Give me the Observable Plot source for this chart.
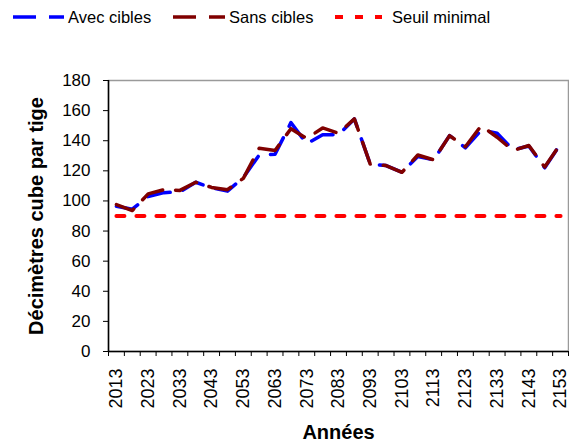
<!DOCTYPE html>
<html><head><meta charset="utf-8">
<script src="https://cdn.jsdelivr.net/npm/d3@7"></script>
<script src="https://cdn.jsdelivr.net/npm/@observablehq/plot@0.6"></script>
<style>
body{margin:0;background:#fff;font-family:"Liberation Sans",Arial,sans-serif;}
#chart{width:569px;height:443px;overflow:hidden;}
#chart svg{display:block;}
</style></head><body><div id="chart"></div>
<script>
// Categories (years)
const years = [2013,2018,2023,2028,2033,2038,2043,2048,2053,2058,2063,2068,2073,2078,2083,2088,2093,2098,2103,2108,2113,2118,2123,2128,2133,2138,2143,2148,2153];
// Series values (dm3 per stem)
const avecCibles = [96.5,94.5,103,105.5,106,112.4,108.7,106.5,115.5,130.5,131,152,138,144,144,154.5,124.5,123.5,119,129.5,127.3,143.4,135.3,147,145,134,136.5,122,138];
const sansCibles = [97.6,93.6,104.7,107.5,107,112.4,109,107.5,115,135,133.5,148,141.5,148.5,145,154.5,124.5,123.5,119,130.5,127.3,143.4,136,150,142.3,133.5,136.8,122.5,138];
const seuilMinimal = 90;
// Tick labels
const yTicks = [0,20,40,60,80,100,120,140,160,180];
const xLabelYears = [2013,2023,2033,2043,2053,2063,2073,2083,2093,2103,2113,2123,2133,2143,2153];
const seriesNames = ["Avec cibles","Sans cibles","Seuil minimal"];

const FONT = "Liberation Sans, Arial, sans-serif";
const step = years[1]-years[0];
const xDomain = [years[0]-step/2, years[years.length-1]+step/2];
const boundaries = years.map(y => y - step/2).concat([years[years.length-1]+step/2]);
const rows = vals => years.map((y,i) => ({year:y, value:vals[i]}));
const seuilRows = [{year:years[0], value:seuilMinimal},{year:years[years.length-1], value:seuilMinimal}];

const legendH = 36;
const chart = document.getElementById("chart");

// Legend (above the plot)
const leg = d3.create("svg").attr("width",569).attr("height",legendH)
  .style("display","block").style("font-family",FONT);
const legItems = [
  {name:seriesNames[0], color:"#0000FF", dash:"23,13", w:3.5, x1:13, x2:64, tx:68},
  {name:seriesNames[1], color:"#800000", dash:"23,13", w:3.5, x1:173, x2:225, tx:229},
  {name:seriesNames[2], color:"#FF0000", dash:"8,12", w:4, x1:335, x2:382, tx:392}
];
for (const it of legItems) {
  leg.append("line").attr("x1",it.x1).attr("x2",it.x2).attr("y1",17).attr("y2",17)
    .attr("stroke",it.color).attr("stroke-width",it.w).attr("stroke-dasharray",it.dash);
  leg.append("text").attr("x",it.tx).attr("y",23).attr("font-size",16.5).attr("fill","#000").text(it.name);
}
chart.appendChild(leg.node());

const plot = Plot.plot({
  width:569, height:443-legendH,
  marginLeft:108, marginRight:1, marginTop:44, marginBottom:92,
  style:{fontFamily:FONT, fontSize:"17px", color:"#000", background:"#fff", overflow:"visible"},
  x:{domain:xDomain},
  y:{domain:[0,180]},
  marks:[
    Plot.frame({stroke:"#9a9a9a", strokeWidth:1.5}),
    Plot.axisY({ticks:yTicks, tickSize:5, tickPadding:13, fontSize:17, label:null, tickFormat:d=>String(d)}),
    Plot.axisX({ticks:boundaries, tickSize:5, tickFormat:()=>"", label:null}),
    Plot.axisX({ticks:xLabelYears, tickSize:0, tickPadding:17, tickRotate:-90, fontSize:18, label:null, tickFormat:d=>String(d)}),
    Plot.ruleX([xDomain[0]], {stroke:"#000", strokeWidth:1.5}),
    Plot.ruleY([0], {stroke:"#000", strokeWidth:1.5}),
    Plot.lineY(seuilRows, {x:"year", y:"value", stroke:"#FF0000", strokeWidth:4, strokeDasharray:"8,12"}),
    Plot.lineY(rows(avecCibles), {x:"year", y:"value", stroke:"#0000FF", strokeWidth:3.5, strokeDasharray:"23,13"}),
    Plot.lineY(rows(sansCibles), {x:"year", y:"value", stroke:"#800000", strokeWidth:3.5, strokeDasharray:"23,13", strokeDashoffset:4}),
    Plot.text(["Années"], {text:d=>d, frameAnchor:"bottom", lineAnchor:"middle", dy:81, fontWeight:"bold", fontSize:20, fill:"#000"}),
    Plot.text(["Décimètres cube par tige"], {text:d=>d, frameAnchor:"left", textAnchor:"middle", dx:-72, rotate:-90, fontWeight:"bold", fontSize:20, fill:"#000"})
  ]
});
chart.appendChild(plot);
</script></body></html>
